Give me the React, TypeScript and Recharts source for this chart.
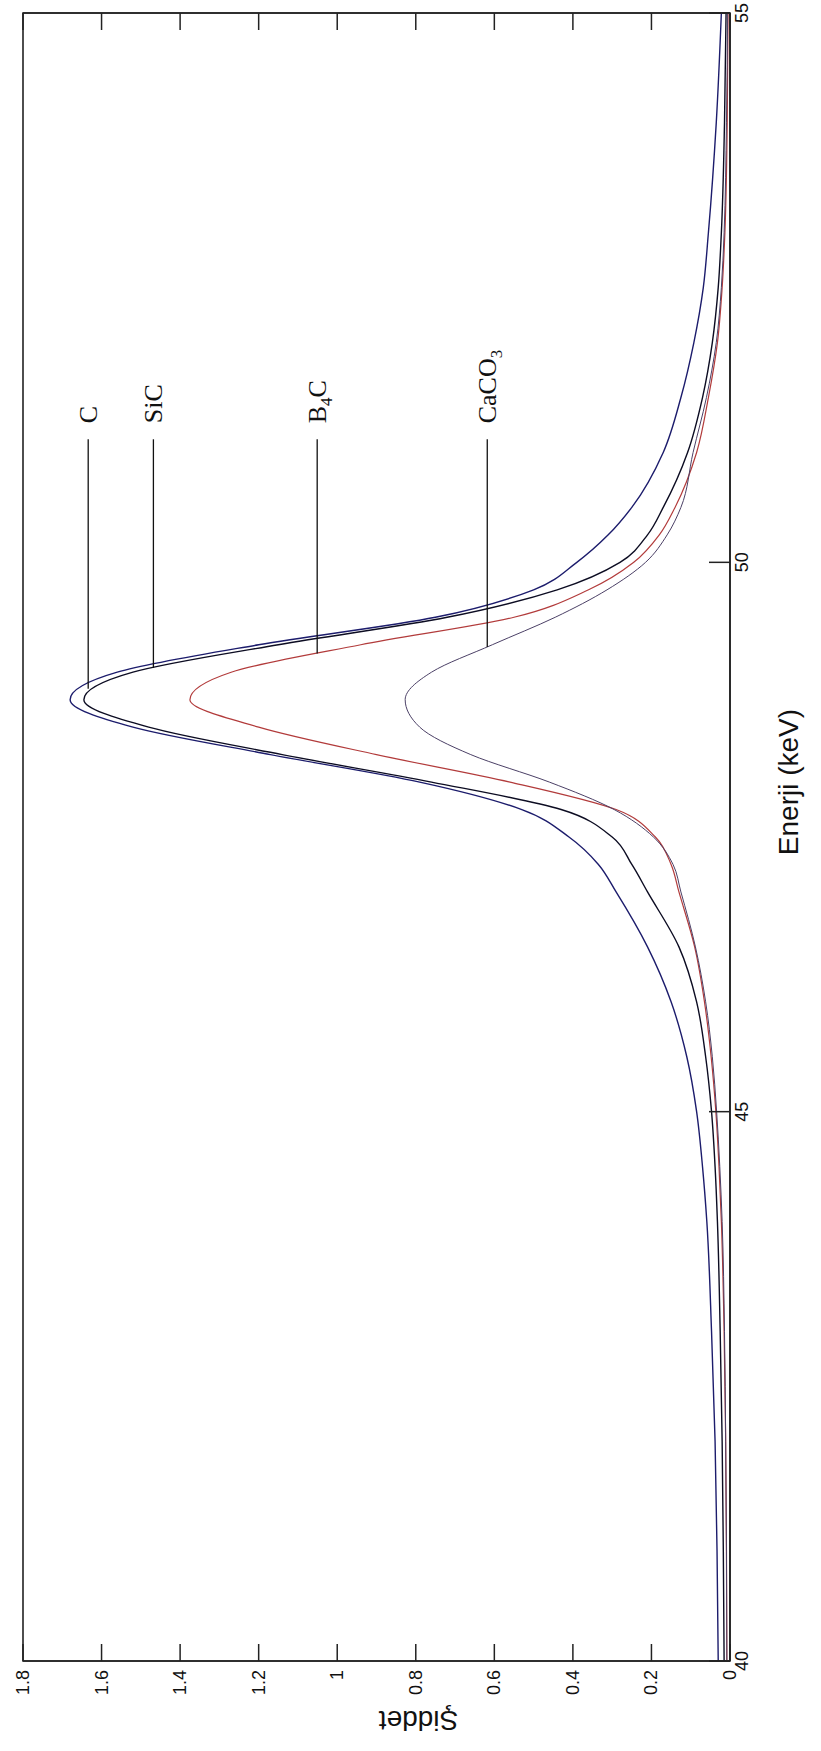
import { Label, Line, LineChart, ReferenceArea, ReferenceLine, XAxis, YAxis } from 'recharts'

// energy (keV) sample points
const energy = [
	40, 41, 42, 43, 44, 44.5, 45, 45.5, 46, 46.5, 47, 47.25, 47.5, 47.75, 48,
	48.25, 48.5, 48.75, 49, 49.25, 49.5, 49.75, 50, 50.25, 50.5, 51, 51.5, 52,
	52.5, 53, 54, 55,
]

const cValues = [
	0.03, 0.033, 0.038, 0.047, 0.059, 0.07, 0.085, 0.11, 0.15, 0.21, 0.29, 0.335,
	0.41, 0.53, 0.79, 1.17, 1.52, 1.68, 1.56, 1.2, 0.75, 0.5, 0.39, 0.31, 0.25,
	0.17, 0.125, 0.092, 0.068, 0.055, 0.035, 0.022,
]

const sicValues = [
	0.015, 0.017, 0.02, 0.025, 0.032, 0.038, 0.047, 0.062, 0.085, 0.13, 0.21, 0.25,
	0.3, 0.43, 0.76, 1.14, 1.48, 1.645, 1.52, 1.15, 0.72, 0.44, 0.28, 0.21, 0.17,
	0.108, 0.07, 0.045, 0.03, 0.022, 0.014, 0.01,
]

const b4cValues = [
	0.008, 0.009, 0.011, 0.015, 0.022, 0.028, 0.036, 0.048, 0.065, 0.09, 0.13,
	0.15, 0.19, 0.29, 0.56, 0.9, 1.2, 1.375, 1.27, 0.94, 0.55, 0.36, 0.245, 0.18,
	0.14, 0.085, 0.055, 0.032, 0.02, 0.013, 0.007, 0.005,
]

const caco3Values = [
	0.008, 0.009, 0.011, 0.014, 0.02, 0.026, 0.034, 0.045, 0.062, 0.088, 0.125,
	0.145, 0.195, 0.295, 0.46, 0.66, 0.79, 0.827, 0.76, 0.605, 0.445, 0.313,
	0.215, 0.16, 0.125, 0.094, 0.06, 0.035, 0.022, 0.015, 0.009, 0.006,
]

const energyTicks = [40, 45, 50, 55]
const intensityTicks = [0, 0.2, 0.4, 0.6, 0.8, 1, 1.2, 1.4, 1.6, 1.8]

// callout lines: intensity level, energy where it meets the curve, energy of its free end
const calloutKeys = ['C', 'SiC', 'B4C', 'CaCO3']
const calloutLevels = [1.634, 1.468, 1.051, 0.618]
const calloutStart = [48.85, 49.04, 49.17, 49.23]
const calloutEnd = 51.12

const series = [
	{ key: 'C', color: '#1c1c6c', width: 1.4 },
	{ key: 'SiC', color: '#0c0c22', width: 1.4 },
	{ key: 'B4C', color: '#b23b3b', width: 1.2 },
	{ key: 'CaCO3', color: '#4b4066', width: 1 },
]

const chartData = energy.map((e, i) => ({
	energy: e,
	C: cValues[i],
	SiC: sicValues[i],
	B4C: b4cValues[i],
	CaCO3: caco3Values[i],
}))

const AXIS = '#222'
const SANS = '"Liberation Sans", Arial, sans-serif'
const SERIF = '"Liberation Serif", "Times New Roman", serif'

const energyTick = (props: any) => {
	const { x, y, payload } = props
	return (
		<g>
			<line x1={x} y1={y} x2={x} y2={y - 21} stroke={AXIS} strokeWidth={1.5} />
			<text
				x={x}
				y={y + 5}
				dy='0.71em'
				textAnchor='middle'
				fontSize={18}
				fontFamily={SANS}
				fill='#111'
			>
				{payload.value}
			</text>
		</g>
	)
}

const intensityTickLeft = (props: any) => {
	const { x, y, payload } = props
	return (
		<g>
			<line x1={x} y1={y} x2={x + 17} y2={y} stroke={AXIS} strokeWidth={1.5} />
			<text
				x={x - 9}
				y={y}
				textAnchor='end'
				dominantBaseline='central'
				fontSize={18}
				fontFamily={SANS}
				fill='#111'
			>
				{payload.value}
			</text>
		</g>
	)
}

const intensityTickRight = (props: any) => {
	const { x, y } = props
	return <line x1={x} y1={y} x2={x - 17} y2={y} stroke={AXIS} strokeWidth={1.5} />
}

const calloutText = (key: string) => {
	if (key === 'B4C')
		return (
			<>
				B
				<tspan dy={9} fontSize={17}>
					4
				</tspan>
				<tspan dy={-9}>C</tspan>
			</>
		)
	if (key === 'CaCO3')
		return (
			<>
				CaCO
				<tspan dy={9} fontSize={17}>
					3
				</tspan>
			</>
		)
	return key
}

const renderCallout = (key: string) => (props: any) => {
	const vb = props.viewBox
	return (
		<text
			x={vb.x + vb.width + 16}
			y={vb.y}
			dominantBaseline='central'
			fontSize={26}
			fontFamily={SERIF}
			fill='#111'
		>
			{calloutText(key)}
		</text>
	)
}

const renderEnergyLabel = (props: any) => {
	const vb = props.viewBox
	return (
		<text
			x={vb.x + vb.width / 2 + 55}
			y={vb.y + 58}
			textAnchor='middle'
			dominantBaseline='central'
			fontSize={28}
			fontFamily={SANS}
			fill='#111'
		>
			Enerji (keV)
		</text>
	)
}

const renderIntensityLabel = (props: any) => {
	const vb = props.viewBox
	const cx = 31
	const cy = vb.y + vb.height / 2 + 42
	return (
		<text
			x={cx}
			y={cy}
			transform={`rotate(-90, ${cx}, ${cy})`}
			textAnchor='middle'
			dominantBaseline='central'
			fontSize={28}
			fontFamily={SANS}
			fill='#111'
		>
			Şiddet
		</text>
	)
}

export default function App() {
	return (
		<div
			style={{
				position: 'absolute',
				left: 0,
				top: 0,
				width: 821,
				height: 1751,
				overflow: 'hidden',
				background: '#fff',
			}}
		>
			<div
				style={{
					position: 'absolute',
					left: 0,
					top: 0,
					width: 1751,
					height: 821,
					transformOrigin: '0 0',
					transform: 'translateY(1751px) rotate(-90deg)',
				}}
			>
				<LineChart
					width={1751}
					height={821}
					data={chartData}
					margin={{ top: 23, right: 12, bottom: 0, left: 0 }}
				>
					<XAxis
						xAxisId='e'
						dataKey='energy'
						type='number'
						domain={[40, 55]}
						ticks={energyTicks}
						interval={0}
						height={91}
						tickSize={0}
						tickMargin={0}
						tickLine={false}
						tick={energyTick}
						axisLine={{ stroke: AXIS, strokeWidth: 1.6 }}
						allowDataOverflow
					>
						<Label content={renderEnergyLabel} />
					</XAxis>
					<YAxis
						yAxisId='s'
						type='number'
						domain={[0, 1.8]}
						ticks={intensityTicks}
						interval={0}
						width={90}
						tickSize={0}
						tickMargin={0}
						tickLine={false}
						tick={intensityTickLeft}
						axisLine={{ stroke: AXIS, strokeWidth: 1.6 }}
						allowDataOverflow
					>
						<Label content={renderIntensityLabel} />
					</YAxis>
					<YAxis
						yAxisId='sRight'
						orientation='right'
						type='number'
						domain={[0, 1.8]}
						ticks={intensityTicks}
						interval={0}
						width={1}
						tickSize={0}
						tickMargin={0}
						tickLine={false}
						tick={intensityTickRight}
						axisLine={{ stroke: AXIS, strokeWidth: 1.6 }}
						allowDataOverflow
					/>

					<ReferenceArea
						xAxisId='e'
						yAxisId='s'
						x1={40}
						x2={55}
						y1={0}
						y2={1.8}
						fill='none'
						stroke={AXIS}
						strokeWidth={1.6}
						ifOverflow='visible'
					/>

					{series.map(s => (
						<Line
							key={s.key}
							xAxisId='e'
							yAxisId='s'
							type='monotone'
							dataKey={s.key}
							stroke={s.color}
							strokeWidth={s.width}
							dot={false}
							activeDot={false}
							isAnimationActive={false}
						/>
					))}

					{calloutKeys.map((key, i) => (
						<ReferenceLine
							key={key}
							xAxisId='e'
							yAxisId='s'
							segment={[
								{ x: calloutStart[i], y: calloutLevels[i] },
								{ x: calloutEnd, y: calloutLevels[i] },
							]}
							stroke='#111'
							strokeWidth={1.3}
							ifOverflow='visible'
							label={renderCallout(key)}
						/>
					))}
				</LineChart>
			</div>
		</div>
	)
}
